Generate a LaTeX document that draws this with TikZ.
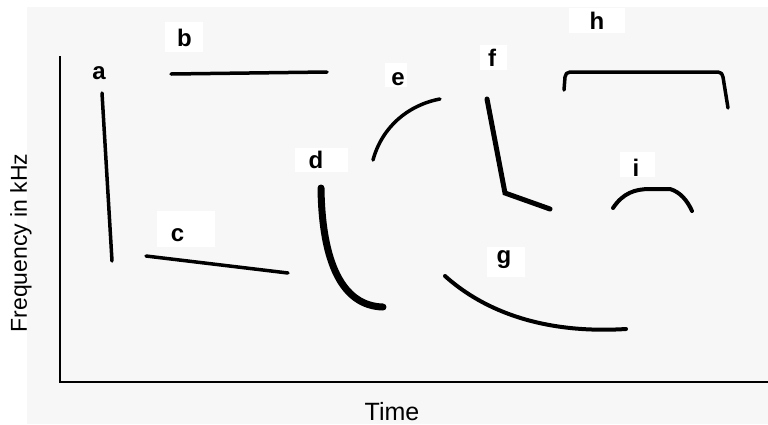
\documentclass[tikz,border=0pt]{standalone}
\usepackage{fontspec}
\setmainfont{Liberation Sans}
\definecolor{paper}{RGB}{247,247,247}
\begin{document}
\begin{tikzpicture}[x=1pt,y=-1pt,
  lbl/.style={inner sep=0pt,anchor=base,font=\bfseries\fontsize{24}{28}\selectfont},
  patch/.style={fill=white,draw=none},
  stroke/.style={line width=3.5pt,line cap=round,line join=round},
  thick stroke/.style={line width=7pt,line cap=round,line join=round}]
\useasboundingbox (0,0) rectangle (768,424);
\fill[white] (0,0) rectangle (768,424);
\fill[paper] (27,7) rectangle (768,424);
% white patches behind the letters
\fill[patch] (165,22) rectangle (203,52);
\fill[patch] (157,211) rectangle (215,247);
\fill[patch] (295,148) rectangle (348,172);
\fill[patch] (385,63) rectangle (407,87);
\fill[patch] (480,45) rectangle (507,70);
\fill[patch] (487,247) rectangle (525,277);
\fill[patch] (569,8) rectangle (625,33);
\fill[patch] (620,152) rectangle (655,177);
% axes
\coordinate (o) at (60,382);
\coordinate (ytop) at (60,56);
\coordinate (xend) at (768,382);
\draw[line width=2pt] (ytop) -- (o) -- (xend);
\node[inner sep=0pt,anchor=base,rotate=90,font=\fontsize{23}{27}\selectfont] (ylab) at (27,243) {Frequency in kHz};
\node[inner sep=0pt,anchor=base,font=\fontsize{25}{29}\selectfont] (xlab) at (392,420) {Time};
% labels
\node[lbl] (la) at (99,79.5) {a};
\node[lbl] (lb) at (184.5,46.5) {b};
\node[lbl] (lc) at (177.5,241.5) {c};
\node[lbl] (ld) at (316,168) {d};
\node[lbl] (le) at (398,85) {e};
\node[lbl] (lf) at (492,66) {f};
\node[lbl] (lg) at (504,263.5) {g};
\node[lbl] (lh) at (597,29) {h};
\node[lbl] (li) at (636,176) {i};
% calls
\draw[stroke] (102,93) -- (112,261);
\draw[stroke] (171,74) -- (327,72);
\draw[stroke] (146,256) -- (288,273);
\draw[thick stroke] (321,188) .. controls (322,262) and (342,306) .. (383,307);
\draw[stroke] (373,160) .. controls (382,127) and (408,105) .. (440,99);
\draw[line width=5pt,line cap=round,line join=miter] (487,99) -- (505,193) -- (550,209);
\draw[line width=4pt,line cap=round] (445,276) .. controls (485,312) and (545,334) .. (626,329);
\draw[stroke] (564,90) -- (565,77) arc[start angle=180,end angle=270,radius=5] -- (718,72) arc[start angle=270,end angle=360,radius=5] -- (728,108);
\draw[line width=4pt,line cap=round,line join=round] (613,208) .. controls (623,193) and (635,189) .. (650,189) -- (670,189) .. controls (680,192) and (687,200) .. (692,211);
\end{tikzpicture}
\end{document}
